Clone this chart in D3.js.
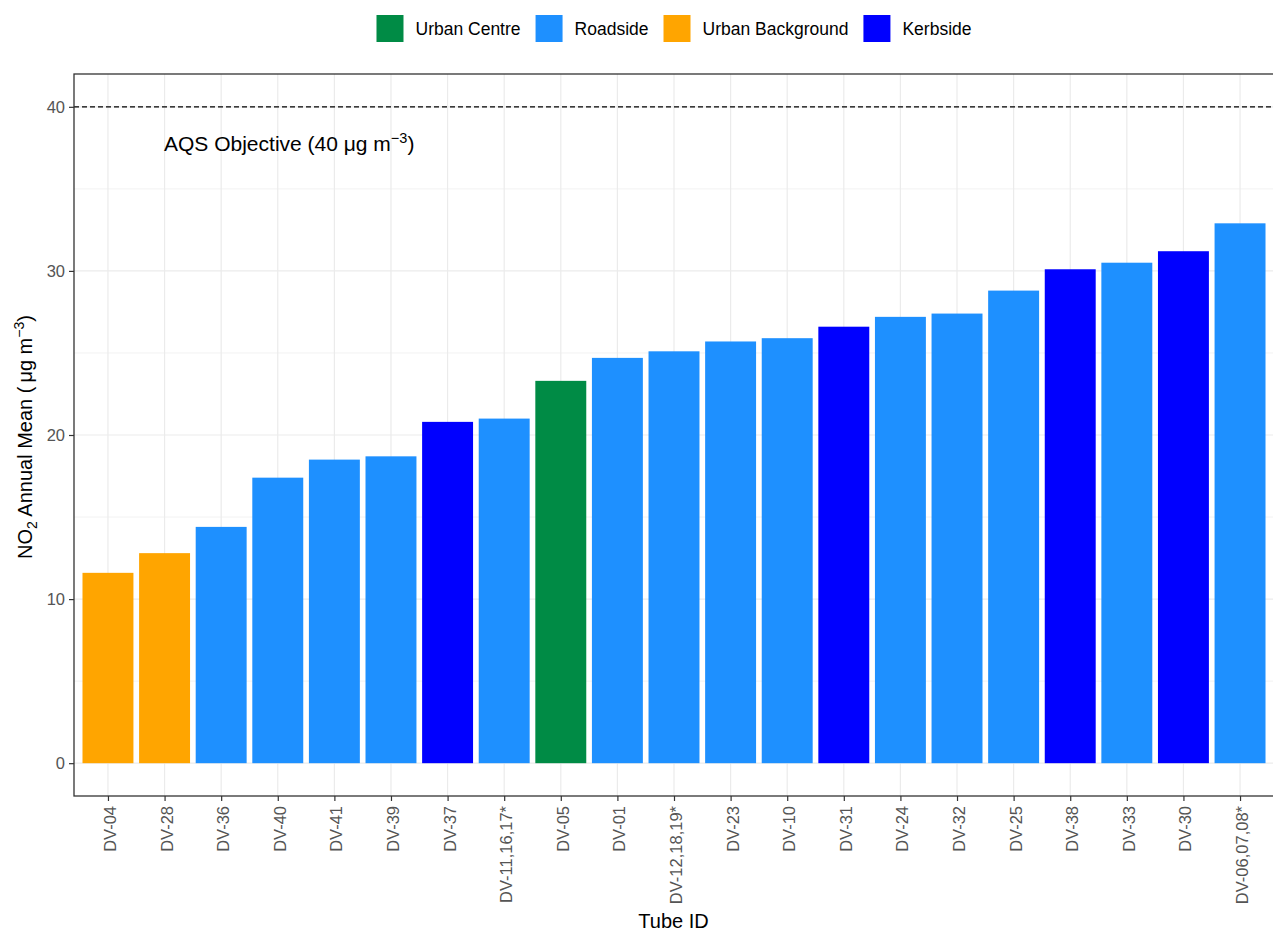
<!DOCTYPE html>
<html>
<head>
<meta charset="utf-8">
<script src="https://d3js.org/d3.v7.min.js"></script>
<style>
  html, body { margin: 0; padding: 0; background: #ffffff; }
  svg { display: block; font-family: "Liberation Sans", Arial, sans-serif; }
</style>
</head>
<body>
<svg id="chart" width="1273" height="934"></svg>
<script>
// Tube IDs in plotting order (ascending NO2 annual mean)
const tubes = ["DV-04", "DV-28", "DV-36", "DV-40", "DV-41", "DV-39", "DV-37", "DV-11,16,17*",
  "DV-05", "DV-01", "DV-12,18,19*", "DV-23", "DV-10", "DV-31", "DV-24", "DV-32", "DV-25",
  "DV-38", "DV-33", "DV-30", "DV-06,07,08*"];

// NO2 annual mean (µg m-3) for each tube
const no2Mean = [11.6, 12.8, 14.4, 17.4, 18.5, 18.7, 20.8, 21.0,
  23.3, 24.7, 25.1, 25.7, 25.9, 26.6, 27.2, 27.4, 28.8,
  30.1, 30.5, 31.2, 32.9];

// Site classification for each tube
const siteType = ["Urban Background", "Urban Background", "Roadside", "Roadside", "Roadside",
  "Roadside", "Kerbside", "Roadside", "Urban Centre", "Roadside", "Roadside", "Roadside",
  "Roadside", "Kerbside", "Roadside", "Roadside", "Roadside", "Kerbside", "Roadside",
  "Kerbside", "Roadside"];

// Legend categories and their fill colours
const siteTypes = ["Urban Centre", "Roadside", "Urban Background", "Kerbside"];
const siteColours = ["#008B45", "#1E90FF", "#FFA500", "#0000FF"];

// Y axis ticks and the AQS objective
const yMajorTicks = [0, 10, 20, 30, 40];
const yMinorTicks = [5, 15, 25, 35];
const aqsObjective = 40;

const data = tubes.map((t, i) => ({ tube: t, value: no2Mean[i], type: siteType[i] }));

const svg = d3.select("#chart");
const panel = { left: 74, right: 1274, top: 74, bottom: 796 };

const x = d3.scalePoint().domain(tubes).range([panel.left, panel.right]).padding(0.6);
const barWidth = x.step() * 0.9;
const y = d3.scaleLinear().domain([-2, 42]).range([panel.bottom, panel.top]);
const colour = d3.scaleOrdinal().domain(siteTypes).range(siteColours);

const grid = svg.append("g");
// minor horizontal grid
grid.selectAll("line.minor").data(yMinorTicks).join("line")
  .attr("x1", panel.left).attr("x2", panel.right)
  .attr("y1", d => y(d)).attr("y2", d => y(d))
  .attr("stroke", "#F2F2F2").attr("stroke-width", 1);
// major horizontal grid
grid.selectAll("line.major").data(yMajorTicks).join("line")
  .attr("x1", panel.left).attr("x2", panel.right)
  .attr("y1", d => y(d)).attr("y2", d => y(d))
  .attr("stroke", "#EBEBEB").attr("stroke-width", 1.2);
// vertical grid at each tube
grid.selectAll("line.vert").data(tubes).join("line")
  .attr("x1", d => x(d)).attr("x2", d => x(d))
  .attr("y1", panel.top).attr("y2", panel.bottom)
  .attr("stroke", "#EBEBEB").attr("stroke-width", 1.2);

// bars
svg.append("g").selectAll("rect").data(data).join("rect")
  .attr("x", d => x(d.tube) - barWidth / 2)
  .attr("width", barWidth)
  .attr("y", d => y(d.value))
  .attr("height", d => y(0) - y(d.value))
  .attr("fill", d => colour(d.type));

// AQS objective line
svg.append("line")
  .attr("x1", panel.left).attr("x2", panel.right)
  .attr("y1", y(aqsObjective)).attr("y2", y(aqsObjective))
  .attr("stroke", "#000").attr("stroke-width", 1.3)
  .attr("stroke-dasharray", "5,3");

const aqs = svg.append("text")
  .attr("x", 164).attr("y", 151)
  .attr("font-size", 21).attr("fill", "#000");
aqs.append("tspan").text("AQS Objective (" + aqsObjective + " \u03BCg m");
aqs.append("tspan").attr("dy", -8).attr("font-size", 14.5).text("\u22123");
aqs.append("tspan").attr("dy", 8).text(")");

// panel border
svg.append("rect")
  .attr("x", panel.left).attr("y", panel.top)
  .attr("width", panel.right - panel.left).attr("height", panel.bottom - panel.top)
  .attr("fill", "none").attr("stroke", "#333333").attr("stroke-width", 1.3);

// y axis
const yAxis = svg.append("g")
  .attr("transform", `translate(${panel.left},0)`)
  .call(d3.axisLeft(y).tickValues(yMajorTicks).tickSize(5).tickPadding(4));
yAxis.select(".domain").remove();
yAxis.selectAll(".tick line").attr("stroke", "#333333").attr("stroke-width", 1.2);
yAxis.selectAll(".tick text").attr("fill", "#555555").attr("font-size", 16.5)
  .attr("font-family", "Liberation Sans, Arial, sans-serif");

// x axis
const xAxis = svg.append("g")
  .attr("transform", `translate(0,${panel.bottom})`)
  .call(d3.axisBottom(x).tickSize(5).tickPadding(4));
xAxis.select(".domain").remove();
xAxis.selectAll(".tick line").attr("stroke", "#333333").attr("stroke-width", 1.2);
xAxis.selectAll(".tick text")
  .attr("fill", "#555555").attr("font-size", 16.5)
  .attr("font-family", "Liberation Sans, Arial, sans-serif")
  .attr("transform", "rotate(-90)")
  .attr("text-anchor", "end")
  .attr("x", -10).attr("y", 0).attr("dy", "0.45em");

// axis titles
svg.append("text")
  .attr("x", (panel.left + 1273) / 2).attr("y", 928)
  .attr("text-anchor", "middle").attr("font-size", 20).attr("fill", "#000")
  .text("Tube ID");

const yTitle = svg.append("text")
  .attr("transform", "translate(32,437) rotate(-90)")
  .attr("text-anchor", "middle").attr("font-size", 20).attr("fill", "#000");
yTitle.append("tspan").text("NO");
yTitle.append("tspan").attr("dy", 5).attr("font-size", 14).text("2");
yTitle.append("tspan").attr("dy", -5).text(" Annual Mean (\u2009\u03BCg m");
yTitle.append("tspan").attr("dy", -8).attr("font-size", 14).text("\u22123");
yTitle.append("tspan").attr("dy", 8).text(")");

// legend
const legend = svg.append("g");
const keySize = 27;
let lx = 0;
siteTypes.forEach((t, i) => {
  const g = legend.append("g").attr("transform", `translate(${lx},0)`);
  g.append("rect").attr("x", 0).attr("y", 0).attr("width", keySize).attr("height", keySize)
    .attr("fill", siteColours[i]);
  const tx = g.append("text").attr("x", keySize + 12).attr("y", keySize / 2)
    .attr("dy", "0.35em").attr("font-size", 17.5).attr("fill", "#000").text(t);
  lx += keySize + 12 + tx.node().getComputedTextLength() + 15;
});
const legendWidth = lx - 15;
legend.attr("transform", `translate(${674 - legendWidth / 2},15)`);
</script>
</body>
</html>
